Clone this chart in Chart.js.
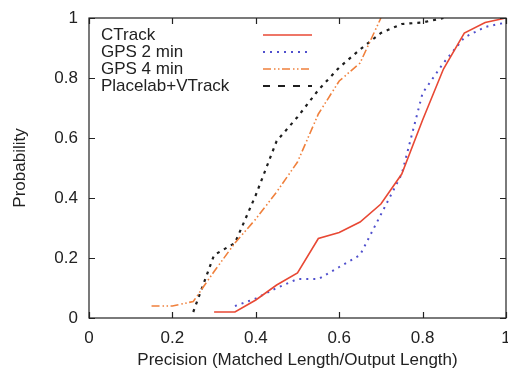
<!DOCTYPE html>
<html>
<head>
<meta charset="utf-8">
<script src="https://cdn.jsdelivr.net/npm/chart.js@4.4.1/dist/chart.umd.min.js"></script>
<style>
  html, body { margin: 0; padding: 0; background: #fff; }
  #wrap { width: 508px; height: 371px; position: relative; }
</style>
</head>
<body>
<div id="wrap"><canvas id="c" width="508" height="371"></canvas></div>
<script>
// Cumulative distribution of precision for each tracking method
const seriesNames = ['CTrack', 'GPS 2 min', 'GPS 4 min', 'Placelab+VTrack'];

const ctrackX = [0.30, 0.35, 0.40, 0.45, 0.50, 0.55, 0.60, 0.65, 0.70, 0.75, 0.80, 0.85, 0.90, 0.95, 1.00];
const ctrackY = [0.02, 0.02, 0.06, 0.11, 0.15, 0.265, 0.285, 0.32, 0.38, 0.48, 0.66, 0.83, 0.95, 0.985, 1.00];

const gps2X = [0.35, 0.40, 0.45, 0.50, 0.55, 0.60, 0.65, 0.70, 0.75, 0.80, 0.85, 0.90, 0.95, 1.00];
const gps2Y = [0.04, 0.065, 0.10, 0.13, 0.13, 0.17, 0.21, 0.345, 0.48, 0.75, 0.85, 0.935, 0.97, 0.985];

const gps4X = [0.15, 0.20, 0.25, 0.30, 0.35, 0.40, 0.45, 0.50, 0.55, 0.60, 0.65, 0.70];
const gps4Y = [0.04, 0.04, 0.055, 0.155, 0.25, 0.33, 0.42, 0.52, 0.68, 0.79, 0.85, 1.00];

const placelabX = [0.25, 0.30, 0.35, 0.40, 0.45, 0.50, 0.55, 0.60, 0.65, 0.70, 0.75, 0.80, 0.85];
const placelabY = [0.02, 0.21, 0.25, 0.41, 0.59, 0.67, 0.76, 0.835, 0.895, 0.95, 0.98, 0.985, 1.00];

const xTickValues = [0, 0.2, 0.4, 0.6, 0.8, 1];
const xTickLabels = ['0', '0.2', '0.4', '0.6', '0.8', '1'];
const yTickValues = [0, 0.2, 0.4, 0.6, 0.8, 1];
const yTickLabels = ['0', '0.2', '0.4', '0.6', '0.8', '1'];

const FONT = 'Liberation Sans, Arial, Helvetica, sans-serif';

function pts(xs, ys) { return xs.map((x, i) => ({ x: x, y: ys[i] })); }

const datasets = [
  { label: seriesNames[0], data: pts(ctrackX, ctrackY), borderColor: 'rgb(232,72,52)', borderWidth: 1.6, borderDash: [] },
  { label: seriesNames[1], data: pts(gps2X, gps2Y), borderColor: 'rgb(80,80,205)', borderWidth: 2, borderDash: [2, 5] },
  { label: seriesNames[2], data: pts(gps4X, gps4Y), borderColor: 'rgb(240,128,60)', borderWidth: 1.6, borderDash: [8, 3, 1.5, 2.5, 1.5, 2.5] },
  { label: seriesNames[3], data: pts(placelabX, placelabY), borderColor: 'rgb(30,30,30)', borderWidth: 2.2, borderDash: [3, 5] }
].map(d => Object.assign(d, { pointRadius: 0, fill: false, tension: 0 }));

// Frame, mirrored inward ticks and the in-plot key
const framePlugin = {
  id: 'frame',
  afterDatasetsDraw(chart) {
    const { ctx, chartArea: a, scales } = chart;
    const tl = 6;
    ctx.save();
    ctx.strokeStyle = '#222';
    ctx.lineWidth = 1.2;
    ctx.strokeRect(a.left, a.top, a.right - a.left, a.bottom - a.top);
    ctx.beginPath();
    xTickValues.forEach(v => {
      const px = Math.round(scales.x.getPixelForValue(v)) + 0.5;
      ctx.moveTo(px, a.bottom); ctx.lineTo(px, a.bottom - tl);
      ctx.moveTo(px, a.top); ctx.lineTo(px, a.top + tl);
    });
    yTickValues.forEach(v => {
      const py = Math.round(scales.y.getPixelForValue(v)) + 0.5;
      ctx.moveTo(a.left, py); ctx.lineTo(a.left + tl, py);
      ctx.moveTo(a.right, py); ctx.lineTo(a.right - tl, py);
    });
    ctx.stroke();

    // key: label text on the left, line sample on the right
    ctx.font = '17px ' + FONT;
    ctx.textBaseline = 'middle';
    ctx.textAlign = 'left';
    chart.data.datasets.forEach((d, i) => {
      const y = 35 + i * 17;
      ctx.fillStyle = '#222';
      ctx.fillText(d.label, 101, y);
      ctx.beginPath();
      ctx.strokeStyle = d.borderColor;
      ctx.lineWidth = d.borderWidth;
      ctx.setLineDash(i === 3 ? [7, 8] : d.borderDash);
      ctx.moveTo(263, y); ctx.lineTo(312, y);
      ctx.stroke();
      ctx.setLineDash([]);
    });
    ctx.restore();
  }
};

new Chart(document.getElementById('c'), {
  type: 'line',
  data: { datasets: datasets },
  plugins: [framePlugin],
  options: {
    responsive: false,
    animation: false,
    layout: { padding: { top: 18, right: 2, left: 0, bottom: 0 } },
    plugins: { legend: { display: false }, tooltip: { enabled: false } },
    scales: {
      x: {
        type: 'linear', min: 0, max: 1,
        afterBuildTicks: s => { s.ticks = xTickValues.map(v => ({ value: v })); },
        afterFit: s => { s.height = 53; s.paddingLeft = 0; s.paddingRight = 0; },
        grid: { display: false, drawTicks: false },
        border: { display: false },
        ticks: {
          padding: 10, color: '#222', maxRotation: 0, autoSkip: false,
          font: { family: FONT, size: 17 },
          callback: (v, i) => xTickLabels[i]
        },
        title: {
          display: true, text: 'Precision (Matched Length/Output Length)',
          color: '#222', font: { family: FONT, size: 17 },
          padding: { top: 0, bottom: 0 }
        }
      },
      y: {
        type: 'linear', min: 0, max: 1,
        afterBuildTicks: s => { s.ticks = yTickValues.map(v => ({ value: v })); },
        afterFit: s => { s.width = 89; s.paddingTop = 0; s.paddingBottom = 0; },
        grid: { display: false, drawTicks: false },
        border: { display: false },
        ticks: {
          padding: 11, color: '#222', autoSkip: false,
          font: { family: FONT, size: 17 },
          callback: (v, i) => yTickLabels[i]
        },
        title: {
          display: true, text: 'Probability',
          color: '#222', font: { family: FONT, size: 17 },
          padding: { top: 10, bottom: 0 }
        }
      }
    }
  }
});
</script>
</body>
</html>
